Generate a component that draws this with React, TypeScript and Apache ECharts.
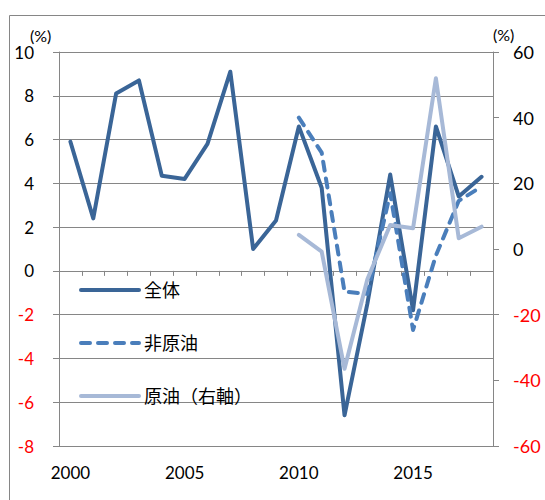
import React, { useEffect, useRef } from "react";
import * as echarts from "echarts";

const years = ["2000","2001","2002","2003","2004","2005","2006","2007","2008","2009","2010","2011","2012","2013","2014","2015","2016","2017","2018"];
const total = [5.9, 2.4, 8.1, 8.7, 4.35, 4.2, 5.8, 9.1, 1.0, 2.3, 6.6, 3.8, -6.6, -1.5, 4.4, -1.8, 6.6, 3.4, 4.3];
const nonOil = [null, null, null, null, null, null, null, null, null, null, 7.0, 5.4, -0.95, -1.05, 3.55, -2.7, 0.7, 3.2, 3.85];
const oil = [null, null, null, null, null, null, null, null, null, null, 4.3, -0.8, -36.5, -9.2, 7.3, 6.3, 52, 3.3, 6.8];
const leftTicks = { min: -8, max: 10, interval: 2 };
const rightTicks = { min: -60, max: 60, interval: 20 };

const FONT = "Lato, 'Noto Sans CJK JP', sans-serif";
const GRAY = "#868686";

export default function App() {
  const ref = useRef<HTMLDivElement>(null);
  useEffect(() => {
    if (!ref.current) return;
    const chart = echarts.init(ref.current, null, { renderer: "svg" });
    const labelColor = (v: any) => (Number(v) < 0 ? "#FF0000" : "#000000");
    chart.setOption({
      animation: false,
      textStyle: { fontFamily: FONT },
      grid: { left: 59, right: 52, top: 52, bottom: 54, containLabel: false },
      graphic: [
        { type: "rect", shape: { x: 9.5, y: 15.5, width: 700, height: 700 }, style: { fill: "none", stroke: GRAY, lineWidth: 1 }, silent: true },
        { type: "text", left: 30, top: 27, style: { text: "(%)", font: `16px ${FONT}`, fill: "#000" } },
        { type: "text", left: 493, top: 26, style: { text: "(%)", font: `16px ${FONT}`, fill: "#000" } },
      ],
      legend: {
        orient: "vertical",
        left: 79,
        top: 281,
        padding: 0,
        itemWidth: 58,
        itemHeight: 18,
        itemGap: 35,
        itemStyle: { opacity: 0 },
        lineStyle: { width: 4 },
        textStyle: { fontSize: 18, color: "#000", fontFamily: FONT },
        data: ["全体", "非原油", "原油（右軸）"],
      },
      xAxis: [
        {
          type: "category",
          data: years,
          position: "bottom",
          boundaryGap: true,
          axisLine: { show: true, onZero: true, lineStyle: { color: GRAY, width: 1 } },
          axisTick: { show: true, interval: 0, length: 5, lineStyle: { color: GRAY } },
          axisLabel: { show: false },
          splitLine: { show: false },
        },
        {
          type: "category",
          data: years,
          position: "bottom",
          boundaryGap: true,
          axisLine: { show: false, onZero: false },
          axisTick: { show: false },
          axisLabel: { show: true, interval: 4, fontSize: 17, color: "#000", margin: 18, fontFamily: FONT },
          splitLine: { show: false },
        },
      ],
      yAxis: [
        {
          type: "value",
          position: "left",
          min: leftTicks.min,
          max: leftTicks.max,
          interval: leftTicks.interval,
          axisLine: { show: true, lineStyle: { color: GRAY } },
          axisTick: { show: true, length: 6, lineStyle: { color: GRAY } },
          axisLabel: { fontSize: 17, margin: 25, color: labelColor, fontFamily: FONT },
          splitLine: { show: true, lineStyle: { color: GRAY, width: 1 } },
        },
        {
          type: "value",
          position: "right",
          min: rightTicks.min,
          max: rightTicks.max,
          interval: rightTicks.interval,
          axisLine: { show: true, lineStyle: { color: GRAY } },
          axisTick: { show: true, length: 6, lineStyle: { color: GRAY } },
          axisLabel: { fontSize: 18, margin: 20, color: labelColor, fontFamily: FONT },
          splitLine: { show: false },
        },
      ],
      series: [
        {
          name: "全体",
          type: "line",
          xAxisIndex: 0,
          yAxisIndex: 0,
          data: total,
          symbol: "none",
          connectNulls: false,
          lineStyle: { color: "#3A6597", width: 4, join: "round", cap: "round" },
          itemStyle: { color: "#3A6597" },
        },
        {
          name: "非原油",
          type: "line",
          xAxisIndex: 0,
          yAxisIndex: 0,
          data: nonOil,
          symbol: "none",
          lineStyle: { color: "#4A7EBB", width: 4, type: [9, 8], join: "round", cap: "round" },
          itemStyle: { color: "#4A7EBB" },
        },
        {
          name: "原油（右軸）",
          type: "line",
          xAxisIndex: 0,
          yAxisIndex: 1,
          data: oil,
          symbol: "none",
          lineStyle: { color: "#A7B9D7", width: 4, join: "round", cap: "round" },
          itemStyle: { color: "#A7B9D7" },
        },
      ],
    });
    return () => chart.dispose();
  }, []);
  return <div ref={ref} style={{ width: 545, height: 500, position: "absolute", left: 0, top: 0 }} />;
}
